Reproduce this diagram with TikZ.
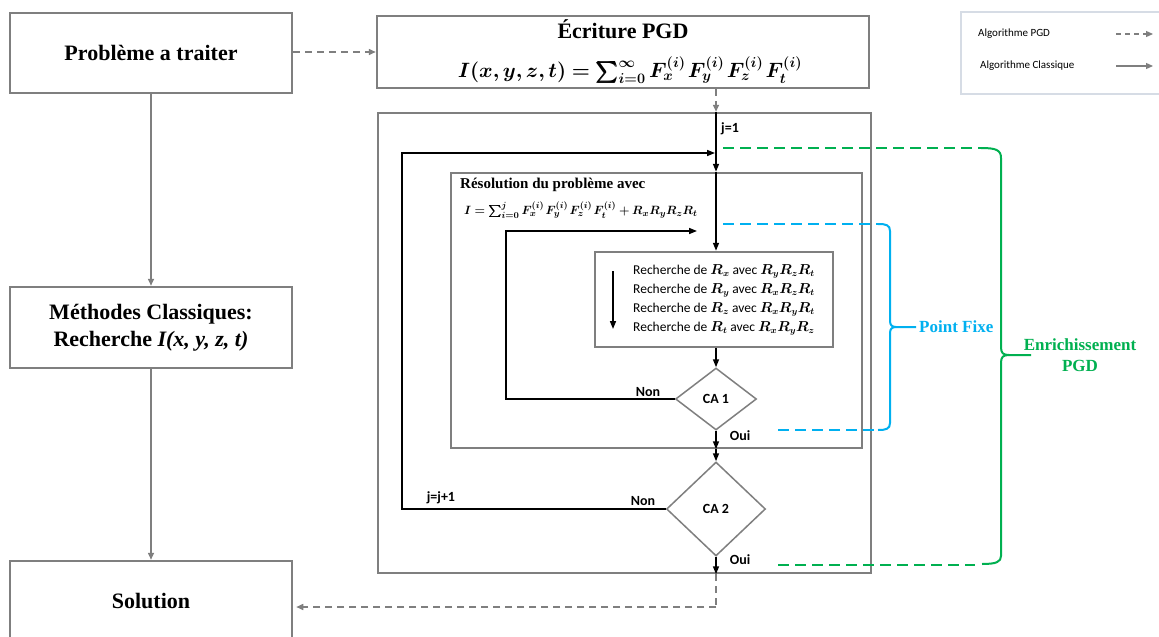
\documentclass[tikz,border=0pt]{standalone}
\usepackage{fontspec}
\setmainfont{Liberation Serif}
\newfontfamily\calibri{Carlito}
\usepackage{amsmath,bm}
\usetikzlibrary{arrows.meta,shapes.geometric}
\definecolor{bgray}{HTML}{7F7F7F}
\definecolor{pgreen}{HTML}{00B050}
\definecolor{pblue}{HTML}{00B0F0}
\definecolor{lgray}{HTML}{D6DCE5}
\begin{document}
\begin{tikzpicture}[x=1pt,y=-1pt,
 box/.style={draw=bgray, line width=2.5pt, rectangle, inner sep=0pt, align=center},
 titlefont/.style={font=\fontsize{22}{27}\selectfont\bfseries},
 dia/.style={draw=bgray, line width=1.5pt, diamond, inner sep=0pt, font=\calibri\bfseries\fontsize{14}{16}\selectfont},
 garrow/.style={draw=bgray, line width=1.5pt, -{Triangle[length=7pt,width=6pt]}},
 gdash/.style={garrow, dash pattern=on 7pt off 5pt},
 barrow/.style={draw=black, line width=1.5pt, -{Triangle[length=8pt,width=6pt]}},
 bline/.style={draw=black, line width=1.5pt},
 lab/.style={font=\calibri\bfseries\fontsize{14}{16}\selectfont, inner sep=0pt},
 gdashline/.style={draw=pgreen, line width=2.5pt, dash pattern=on 11pt off 6pt},
 bdashline/.style={draw=pblue, line width=2.5pt, dash pattern=on 11pt off 6pt},
 bracepath/.style={line width=2pt},
 legtext/.style={font=\calibri\fontsize{11}{13}\selectfont, inner sep=0pt, anchor=west},
]
\fill[white] (0,0) rectangle (1159,637);
\useasboundingbox (0,0) rectangle (1159,637);

% left column
\node[box, titlefont, minimum width=282pt, minimum height=80pt] (prob) at (151,53) {Problème a traiter};
\node[box, titlefont, minimum width=282pt, minimum height=81pt] (meth) at (151,327.5)
  {Méthodes Classiques:\\Recherche \textit{I(x, y, z, t)}};
\node[box, titlefont, minimum width=282pt, minimum height=80pt] (sol) at (151,601) {Solution};

% PGD writing box
\node[box, minimum width=492pt, minimum height=72pt] (ecr) at (623,52) {};
\node[titlefont, inner sep=0pt] (ecrt) at (623,29) {Écriture PGD};
\node[font=\fontsize{20.5}{25}\selectfont, inner sep=0pt] (ecrf) at (630,70)
  {$\bm{I(x,y,z,t)=\sum_{i=0}^{\infty}F_x^{(i)}\mkern2mu F_y^{(i)}\mkern2mu F_z^{(i)}\mkern2mu F_t^{(i)}}$};

% big frame, inner frame, search box
\node[box, minimum width=493pt, minimum height=460pt] (big) at (624.5,343) {};
\node[box, minimum width=411pt, minimum height=275pt] (inner) at (656.5,310.5) {};
\node[font=\fontsize{15}{18}\selectfont\bfseries, anchor=west, inner sep=0pt] (restxt) at (460,185)
  {Résolution du problème avec};
\node[font=\fontsize{12.5}{15}\selectfont, anchor=west, inner sep=0pt] (resf) at (464,210)
  {$\bm{I=\sum_{i=0}^{j}F_x^{(i)}\mkern2mu F_y^{(i)}\mkern2mu F_z^{(i)}\mkern2mu F_t^{(i)}+R_xR_yR_zR_t}$};
\node[box, minimum width=238pt, minimum height=95pt] (rech) at (714,299.5) {};
\node[font=\calibri\fontsize{13.5}{19}\selectfont, anchor=west, inner sep=0pt, align=left] (rtext) at (633,300)
  {Recherche de $\bm{R_x}$ avec $\bm{R_yR_zR_t}$\\
   Recherche de $\bm{R_y}$ avec $\bm{R_xR_zR_t}$\\
   Recherche de $\bm{R_z}$ avec $\bm{R_xR_yR_t}$\\
   Recherche de $\bm{R_t}$ avec $\bm{R_xR_yR_z}$};
\coordinate (ra) at (613,271);
\coordinate (rb) at (613,329);
\draw[barrow] (ra) -- (rb);

% decisions
\node[dia, minimum width=81pt, minimum height=62pt] (ca1) at (716,399) {CA 1};
\node[dia, minimum width=99pt, minimum height=94pt] (ca2) at (716,509) {CA 2};

% spine
\coordinate (spine) at (716,0);
\coordinate (o1) at (402,153);
\coordinate (o2) at (715,153);
\coordinate (i1) at (506,231);
\coordinate (i2) at (697,231);
\coordinate (sd) at (716,607);

% left column connectors
\draw[garrow] (prob.south) -- (meth.north);
\draw[garrow] (meth.south) -- (sol.north);
\draw[gdash] (prob.east |- 0,52) -- (ecr.west |- 0,52);
\draw[gdash] (ecr.south -| spine) -- (big.north -| spine);

% black flow
\draw[barrow] (big.north -| spine) -- (inner.north -| spine);
\draw[barrow] (inner.north -| spine) -- (rech.north -| spine);
\draw[barrow] (rech.south -| spine) -- (ca1.north);
\draw[barrow] (ca1.south) -- (inner.south -| spine);
\draw[barrow] (inner.south -| spine) -- (ca2.north);
\draw[barrow] (ca2.south) -- (big.south -| spine);
\draw[barrow] (ca1.west) -| (i1) -- (i2);
\draw[barrow] (ca2.west) -| (o1) -- (o2);
\draw[gdash, -] (big.south -| spine) -- (sd);
\draw[gdash, shorten >=3pt] (sd) -- (sd -| sol.east);

% labels
\node[lab, anchor=west] (j1) at (721,129) {j=1};
\node[lab] (non1) at (648,392) {Non};
\node[lab] (oui1) at (740,436) {Oui};
\node[lab] (jj) at (441,498) {j=j+1};
\node[lab] (non2) at (643,501) {Non};
\node[lab] (oui2) at (740,560) {Oui};

% green brace (Enrichissement PGD)
\coordinate (g1) at (723,148);
\coordinate (g2) at (981,148);
\coordinate (g3) at (778,565);
\coordinate (g4) at (975,565);
\draw[gdashline] (g1) -- (g2);
\draw[gdashline] (g3) -- (g4);
\draw[pgreen, bracepath] (g2) .. controls (996,148) and (1001,150) .. (1001,158)
  -- (1001,347) .. controls (1001,353) and (1003,355) .. (1009,355) -- (1031,355);
\draw[pgreen, bracepath] (1009,355) .. controls (1003,355) and (1001,357) .. (1001,363)
  -- (1001,556) .. controls (1001,562) and (996,564) .. (982,564);
\node[text=pgreen, font=\fontsize{17}{21}\selectfont\bfseries, align=center, inner sep=0pt] (enr) at (1080,355)
  {Enrichissement\\PGD};

% blue brace (Point Fixe)
\coordinate (b1) at (723,224);
\coordinate (b2) at (878,224);
\coordinate (b3) at (778,430);
\coordinate (b4) at (878,430);
\draw[bdashline] (b1) -- (b2);
\draw[bdashline] (b3) -- (b4);
\draw[pblue, bracepath] (878,224) .. controls (886,224) and (890,225) .. (890,231)
  -- (890,321) .. controls (890,325) and (892,327) .. (896,327) -- (916,327);
\draw[pblue, bracepath] (896,327) .. controls (892,327) and (890,329) .. (890,333)
  -- (890,423) .. controls (890,429) and (886,430) .. (878,430);
\node[text=pblue, font=\fontsize{17}{21}\selectfont\bfseries, anchor=west, inner sep=0pt] (pf) at (919,327) {Point Fixe};

% legend
\node[draw=lgray, line width=2pt, minimum width=214pt, minimum height=82pt, inner sep=0pt] (leg) at (1068,53) {};
\node[legtext] (l1) at (978,34) {Algorithme PGD};
\node[legtext] (l2) at (980,66) {Algorithme Classique};
\coordinate (la1) at (1116,34);
\coordinate (la2) at (1153,34);
\coordinate (lb1) at (1116,66);
\coordinate (lb2) at (1153,66);
\draw[gdash, line width=1.2pt, dash pattern=on 5pt off 4pt] (la1) -- (la2);
\draw[garrow, line width=1.2pt] (lb1) -- (lb2);
\end{tikzpicture}
\end{document}
